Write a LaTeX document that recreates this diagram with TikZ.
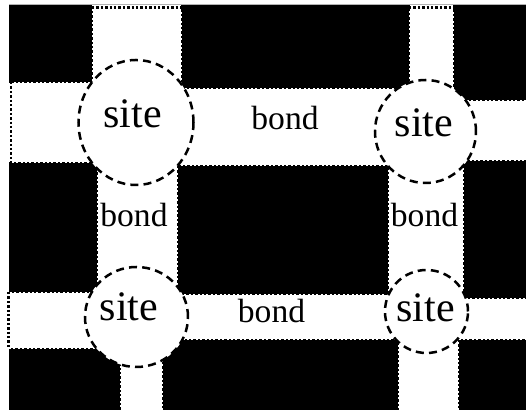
\documentclass[tikz,border=0pt]{standalone}
\usepackage{fontspec}
\setmainfont{Liberation Serif}
\usetikzlibrary{shapes.geometric}
\begin{document}
\begin{tikzpicture}[x=0.5pt,y=-0.5pt,
  blk/.style={fill=black,draw=black,line width=1.3pt,dash pattern=on 1.2pt off 1pt},
  endline/.style={draw=black,line width=1.1pt,dash pattern=on 1.2pt off 1pt},
  sitering/.style={ellipse,fill=white,draw=black,line width=1.25pt,dash pattern=on 4pt off 2.6pt,inner sep=0pt},
  sitelbl/.style={font=\fontsize{21}{24}\selectfont,anchor=base,inner sep=0pt},
  bondlbl/.style={font=\fontsize{16.8}{20}\selectfont,anchor=base,inner sep=0pt}]
\useasboundingbox (0,0) rectangle (526,410);
\fill[white] (0,0) rectangle (526,410);
\begin{scope}
  \clip (9,5) rectangle (526,410);
  % top row
  \path[blk] (9,5) rectangle (92,82);
  \path[blk] (182,5) rectangle (409,88);
  \path[blk] (454,5) rectangle (530,100);
  % middle row
  \path[blk] (9,163) rectangle (97,292);
  \path[blk] (178,166) rectangle (388,294);
  \path[blk] (464,161) rectangle (530,298);
  % bottom row
  \path[blk] (9,349) rectangle (120,414);
  \path[blk] (163,340) rectangle (398,414);
  \path[blk] (459,340) rectangle (530,414);
\end{scope}
% ends of the strips
\coordinate (t1a) at (92,7.5);  \coordinate (t1b) at (182,7.5);
\coordinate (t2a) at (409,7.5); \coordinate (t2b) at (454,7.5);
\coordinate (l1a) at (11,82);   \coordinate (l1b) at (11,163);
\coordinate (l2a) at (8.5,292); \coordinate (l2b) at (8.5,349);
\draw[endline] (t1a) -- (t1b);
\draw[endline] (t2a) -- (t2b);
\draw[endline] (l1a) -- (l1b);
\draw[endline] (l2a) -- (l2b);
\coordinate (topL) at (9,4.5); \coordinate (topR) at (526,4.5);
\draw[gray!60,line width=0.4pt] (topL) -- (topR);
% sites
\node[sitering,minimum width=57.5pt,minimum height=62.5pt] (c1) at (136,122.5) {};
\node[sitering,minimum width=50.5pt,minimum height=51.5pt] (c2) at (425.5,131.5) {};
\node[sitering,minimum width=51.5pt,minimum height=50pt] (c3) at (136.5,317) {};
\node[sitering,minimum width=41.5pt,minimum height=41.5pt] (c4) at (426.5,311.5) {};
% labels
\node[sitelbl] (s1) at (132.5,128) {site};
\node[sitelbl] (s2) at (424,137) {site};
\node[sitelbl] (s3) at (129,321) {site};
\node[sitelbl] (s4) at (425.5,322) {site};
\node[bondlbl] (b1) at (285,130) {bond};
\node[bondlbl] (b2) at (134,227) {bond};
\node[bondlbl] (b3) at (424.5,227) {bond};
\node[bondlbl] (b4) at (271.5,323) {bond};
\end{tikzpicture}
\end{document}
